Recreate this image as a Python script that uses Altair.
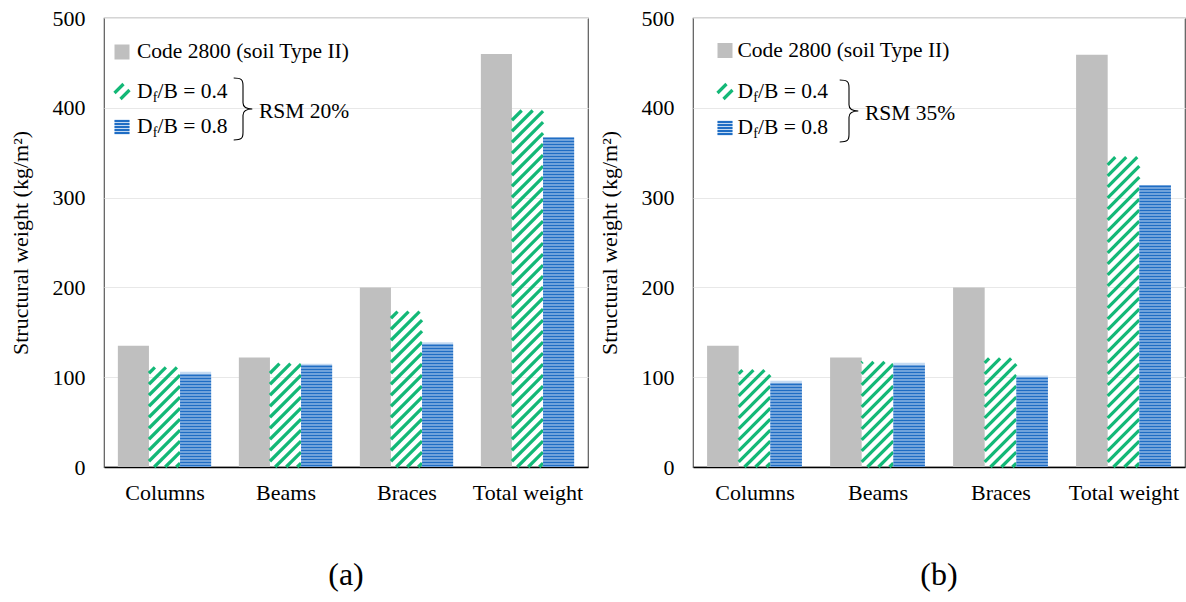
import altair as alt
import pandas as pd

# Structural weight per member group (kg/m^2)
categories = ["Columns", "Beams", "Braces", "Total weight"]
code2800_a = [135, 122, 200, 460]
df04_a = [111, 115, 173, 397]
df08_a = [106, 115, 139, 367]
code2800_b = [135, 122, 200, 459]
df04_b = [108, 117, 121, 345]
df08_b = [96, 116, 102, 314]
y_ticks = [0, 100, 200, 300, 400, 500]

FONT = "Liberation Serif"
H = 449
Y_MAX = 500
BAR_W = 0.257          # bar width, in category units
GRAY = "#bfbfbf"
GREEN = "#13b877"
BLUE = "#1f6dc4"
BLUE_BG = "#c4daf2"


def bar_frame(values, slot):
    rows = []
    for i, v in enumerate(values):
        c = i + 0.5 + slot * BAR_W
        rows.append({"x0": c - BAR_W / 2, "x1": c + BAR_W / 2, "v": v, "base": 0})
    return pd.DataFrame(rows)


def diagonal_hatch(values, slot, W, period=11.0):
    """45-degree hatch lines clipped to each bar (pattern fill)."""
    sx, sy = W / 4, H / Y_MAX
    rows = []
    for i, v in enumerate(values):
        xl = i + 0.5 + slot * BAR_W - BAR_W / 2
        wpx, h = BAR_W * sx, v * sy
        c = -wpx + period * 0.35
        while c < h:
            a0, a1 = max(0.0, -c), min(wpx, h - c)
            if a1 > a0:
                rows.append({"x0": xl + a0 / sx, "x1": xl + a1 / sx,
                             "v": (a0 + c) / sy, "base": (a1 + c) / sy})
            c += period
    return pd.DataFrame(rows)


def horizontal_hatch(values, slot, period=3.0):
    """Horizontal hatch lines inside each bar (pattern fill)."""
    sy = H / Y_MAX
    rows = []
    for i, v in enumerate(values):
        xl = i + 0.5 + slot * BAR_W - BAR_W / 2
        y = period / 2
        while y < v * sy - 0.8:
            rows.append({"x0": xl, "x1": xl + BAR_W, "v": y / sy})
            y += period
    return pd.DataFrame(rows)


def text(s, x, y, size=21.5, **kw):
    return alt.Chart(pd.DataFrame({"k": [0]})).mark_text(
        text=s, font=FONT, fontSize=size, align="left", baseline="middle",
        color="black", **kw
    ).encode(x=alt.value(x), y=alt.value(y))


def rect_px(x0, x1, y0, y1, color):
    return alt.Chart(pd.DataFrame({"k": [0]})).mark_rect(color=color).encode(
        x=alt.value(x0), x2=alt.value(x1), y=alt.value(y0), y2=alt.value(y1))


def seg_px(x0, y0, x1, y1, color, width):
    return alt.Chart(pd.DataFrame({"k": [0]})).mark_rule(
        color=color, strokeWidth=width, strokeCap="butt").encode(
        x=alt.value(x0), x2=alt.value(x1), y=alt.value(y0), y2=alt.value(y1))


BRACE = ("M -0.3 -1 C -0.05 -1 0 -0.95 0 -0.75 L 0 -0.2 "
         "C 0 -0.05 0.1 0 0.3 0 C 0.1 0 0 0.05 0 0.2 L 0 0.75 "
         "C 0 0.95 -0.05 1 -0.3 1")


def legend(ix, tx, yc, yg, yb, bx, by, rsm):
    parts = []
    # Code 2800 swatch and label
    parts.append(rect_px(ix, ix + 15, yc - 7.5, yc + 7.5, GRAY))
    parts.append(text("Code 2800 (soil Type II)", tx, yc))
    # hatched swatches
    parts.append(seg_px(ix, yg + 1.5, ix + 9, yg - 7.5, GREEN, 3.2))
    parts.append(seg_px(ix + 6, yg + 7.5, ix + 15, yg - 1.5, GREEN, 3.2))
    parts.append(rect_px(ix, ix + 15, yb - 7.5, yb + 7.5, BLUE_BG))
    for k in range(5):
        parts.append(seg_px(ix, yb - 6 + 3 * k, ix + 15, yb - 6 + 3 * k, BLUE, 2))
    for yy, val in ((yg, "0.4"), (yb, "0.8")):
        parts.append(text("D", tx, yy))
        parts.append(text("f", tx + 15.8, yy + 6, size=14))
        parts.append(text("/B = " + val, tx + 20.5, yy))
    parts.append(alt.Chart(pd.DataFrame({"k": [0]})).mark_point(
        shape=BRACE, size=62 * 62, filled=False, color="black",
        strokeWidth=1.1, opacity=1).encode(x=alt.value(bx), y=alt.value(by)))
    parts.append(text(rsm, bx + 16, by + 3))
    return parts


def panel(code, d04, d08, W, title, leg):
    xscale = alt.Scale(domain=[0, 4], nice=False, zero=False)
    yscale = alt.Scale(domain=[0, Y_MAX], nice=False)
    label_expr = "[" + ",".join("'%s'" % c for c in categories) + "][floor(datum.value)]"
    x_axis = alt.Axis(values=[0.5, 1.5, 2.5, 3.5], labelExpr=label_expr, grid=False,
                      ticks=False, domainColor="black", domainWidth=1.6,
                      labelPadding=25, labelBaseline="middle", title=None)
    y_axis = alt.Axis(values=y_ticks, grid=True, gridColor="#e8e8e8", ticks=False,
                      domain=False, labelPadding=19, titlePadding=20,
                      title="Structural weight (kg/m²)")
    X = alt.X("x0:Q", scale=xscale, axis=x_axis)
    Y = alt.Y("v:Q", scale=yscale, axis=y_axis)

    gray = alt.Chart(bar_frame(code, -1)).mark_rect(color=GRAY).encode(
        x=X, x2="x1", y=Y, y2="base")
    green = alt.Chart(diagonal_hatch(d04, 0, W)).mark_rule(
        color=GREEN, strokeWidth=3.2, strokeCap="butt").encode(
        x=X, x2="x1", y=Y, y2="base")
    blue_bg = alt.Chart(bar_frame(d08, 1)).mark_rect(color=BLUE_BG).encode(
        x=X, x2="x1", y=Y, y2="base")
    blue = alt.Chart(horizontal_hatch(d08, 1)).mark_rule(
        color=BLUE, strokeWidth=2).encode(x=X, x2="x1", y=Y)

    return alt.layer(gray, green, blue_bg, blue, *legend(**leg)).properties(
        width=W, height=H,
        title=alt.TitleParams(title, orient="bottom", font=FONT, fontSize=32,
                              fontWeight="normal", color="black", offset=57))


left = panel(code2800_a, df04_a, df08_a, 484, "(a)",
             dict(ix=10.5, tx=33, yc=34, yg=73.5, yb=109, bx=139, by=91, rsm="RSM 20%"))
right = panel(code2800_b, df04_b, df08_b, 492, "(b)",
              dict(ix=24.5, tx=44.5, yc=32.5, yg=73.5, yb=110, bx=156, by=93, rsm="RSM 35%"))

chart = alt.hconcat(left, right, spacing=8).properties(
    padding={"top": 6, "left": 8, "right": 0, "bottom": 0}
).configure_view(stroke="#595959", strokeWidth=1.2).configure_axis(
    labelFont=FONT, titleFont=FONT, labelFontSize=22, titleFontSize=22,
    labelColor="black", titleColor="black", titleFontWeight="normal"
)

chart.save("out.html", embed_options={"renderer": "svg", "actions": False})
